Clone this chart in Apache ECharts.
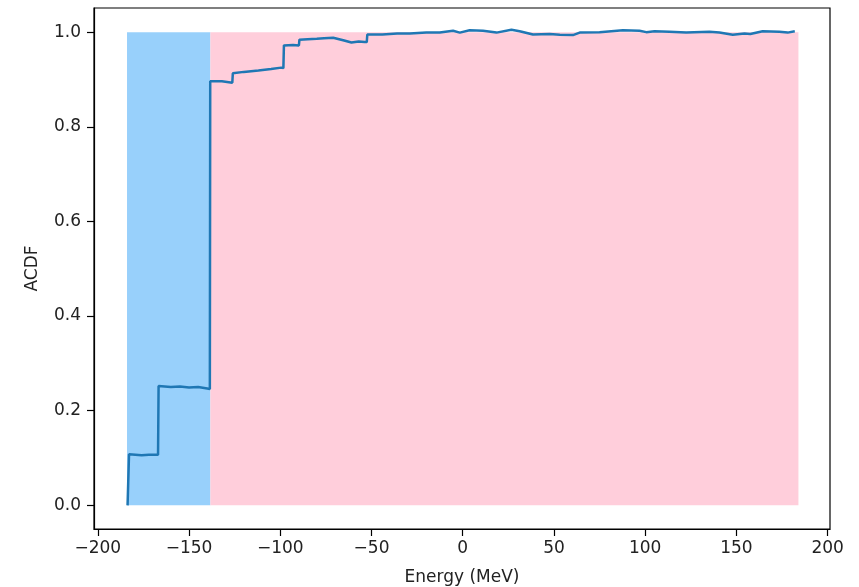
<!DOCTYPE html>
<html>
<head>
<meta charset="utf-8">
<script src="https://cdn.jsdelivr.net/npm/echarts@6/dist/echarts.min.js"></script>
<style>
  html, body { margin: 0; padding: 0; background: #fff; }
  #chart { width: 859px; height: 587px; }
</style>
</head>
<body>
<div id="chart"></div>
<script>
// ---- data ----
var energyMeV = [
  -183.7, -182.9, -176, -172, -167.0, -166.7, -160, -155, -150, -145, -140, -138.6,
  -138.4, -132, -126.3, -126.0, -120, -112, -105, -99.5, -98.3, -98.0, -93, -89.8,
  -89.5, -85, -80, -76, -71, -65.5, -61, -57, -53.8, -52.6, -52.3, -44, -36, -29,
  -20, -12.6, -5.3, -1.6, 3.8, 11.1, 18.5, 26.7, 31.2, 38.5, 47.6, 53.2, 60.4, 64.1,
  75, 87.8, 96.9, 100.6, 105.1, 113.3, 122.5, 135.2, 140.7, 148, 154.4, 157.6, 164.4,
  173.5, 178.1, 182.0
];
var acdf = [
  0.0, 0.108, 0.106, 0.107, 0.107, 0.252, 0.250, 0.251, 0.249, 0.250, 0.247, 0.246,
  0.896, 0.896, 0.893, 0.913, 0.916, 0.919, 0.922, 0.925, 0.924, 0.972, 0.973, 0.972,
  0.984, 0.985, 0.986, 0.987, 0.988, 0.983, 0.978, 0.980, 0.979, 0.979, 0.995, 0.995, 0.997, 0.997,
  0.999, 0.999, 1.003, 0.999, 1.004, 1.003, 0.999, 1.005, 1.002, 0.995, 0.996, 0.9945, 0.9937, 0.999,
  1.000, 1.004, 1.003, 1.000, 1.002, 1.001, 0.999, 1.001, 0.999, 0.9945, 0.997, 0.996, 1.002,
  1.001, 0.999, 1.002
];
var regionStart = [-184, -138.3];
var regionEnd = [-138.3, 184];
var regionTop = 1.0;
var xTicks = [-200, -150, -100, -50, 0, 50, 100, 150, 200];
var yTicks = [0.0, 0.2, 0.4, 0.6, 0.8, 1.0];

// ---- chart ----
var regionColors = ['#98d0fb', '#ffcedb'];
var lineData = energyMeV.map(function (x, i) { return [x, acdf[i]]; });
var areaData = regionStart.map(function (s, i) {
  return [
    { xAxis: s, yAxis: 0, itemStyle: { color: regionColors[i] } },
    { xAxis: regionEnd[i], yAxis: regionTop }
  ];
});

var textColor = '#222';
var chart = echarts.init(document.getElementById('chart'), null, { renderer: 'canvas' });
chart.setOption({
  animation: false,
  backgroundColor: '#fff',
  grid: {
    left: 94, right: 29, top: 8, bottom: 58,
    containLabel: false,
    outerBoundsMode: 'none',
    show: true, borderColor: '#000', borderWidth: 1.2, backgroundColor: 'transparent'
  },
  xAxis: {
    type: 'value',
    min: -202.1, max: 201.3,
    name: 'Energy (MeV)',
    nameLocation: 'middle',
    nameGap: 40,
    nameTextStyle: { fontFamily: 'DejaVu Sans', fontSize: 17, color: textColor },
    axisLine: { show: true, onZero: false, lineStyle: { color: '#000', width: 1.2 } },
    axisTick: { show: true, length: 7, lineStyle: { color: '#000', width: 1.2 }, customValues: xTicks },
    axisLabel: {
      show: true, margin: 11, fontFamily: 'DejaVu Sans', fontSize: 17, color: textColor,
      customValues: xTicks,
      formatter: function (v) { return String(v).replace('-', '\u2212'); }
    },
    splitLine: { show: false }
  },
  yAxis: {
    type: 'value',
    min: -0.05, max: 1.051,
    name: 'ACDF',
    nameLocation: 'middle',
    nameGap: 53,
    nameTextStyle: { fontFamily: 'DejaVu Sans', fontSize: 17, color: textColor },
    axisLine: { show: true, onZero: false, lineStyle: { color: '#000', width: 1.2 } },
    axisTick: { show: true, length: 7, lineStyle: { color: '#000', width: 1.2 }, customValues: yTicks },
    axisLabel: {
      show: true, margin: 13, fontFamily: 'DejaVu Sans', fontSize: 17, color: textColor,
      customValues: yTicks,
      formatter: function (v) { return v.toFixed(1); }
    },
    splitLine: { show: false }
  },
  series: [{
    type: 'line',
    data: lineData,
    showSymbol: false,
    symbol: 'none',
    smooth: false,
    lineStyle: { color: '#1f77b4', width: 2.5 },
    z: 3,
    markArea: {
      silent: true,
      data: areaData
    }
  }]
});
</script>
</body>
</html>
